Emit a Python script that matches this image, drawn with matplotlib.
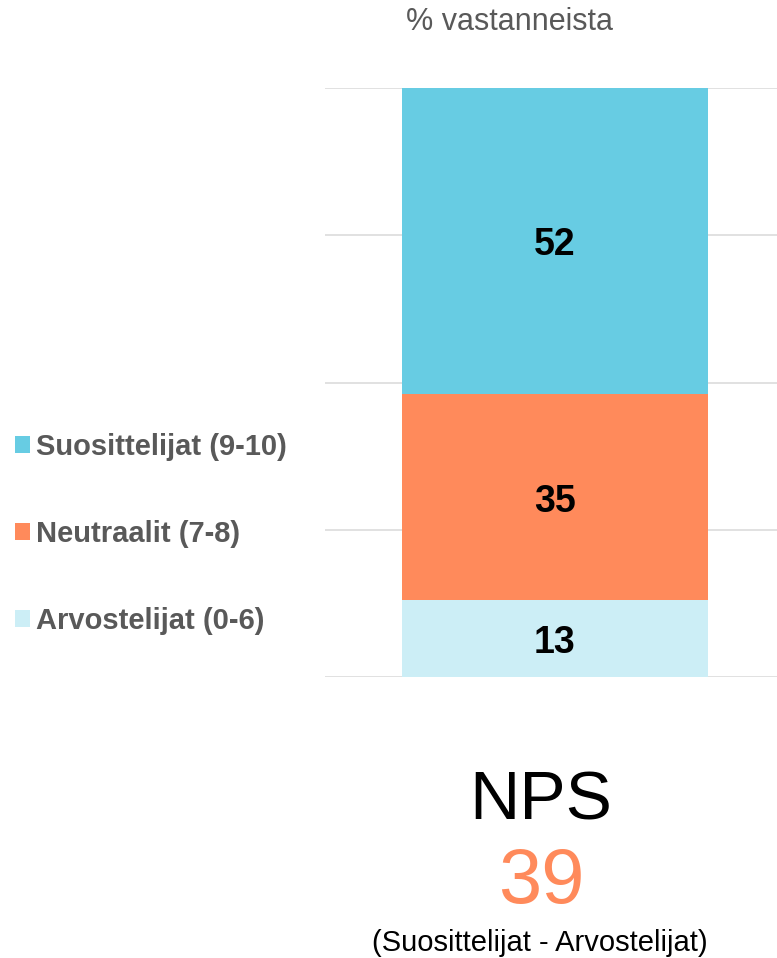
import matplotlib
matplotlib.use("Agg")
import matplotlib.pyplot as plt

# ── Data ──────────────────────────────────────────────────────────────────────
groups = ["Arvostelijat (0-6)", "Neutraalit (7-8)", "Suosittelijat (9-10)"]
shares = [13, 35, 52]
nps_value = shares[2] - shares[0]

# ── Palette ──────────────────────────────────────────────────────────────────
COLORS = ["#CCEEF6", "#FF8A5B", "#67CCE3"]
GRID = "#D9D9D9"
GREY = "#595959"

plt.rcParams["font.family"] = ["Liberation Sans", "DejaVu Sans"]

fig = plt.figure(figsize=(7.77, 9.58), dpi=100, facecolor="white")
ax = fig.add_axes([325 / 777, 1 - 677 / 958, 452 / 777, (677 - 88) / 958])

bottom = 0
bars = []
for name, val, col in zip(groups, shares, COLORS):
    b = ax.bar(0, val, width=1.0, bottom=bottom, color=col, label=name, zorder=2)
    ax.bar_label(b, labels=[f"{val}"], label_type="center", padding=-3,
                 fontsize=27, fontweight="bold", color="black")
    bars.append(b)
    bottom += val

ax.set_xlim(-230 / 306, 222 / 306)
ax.set_ylim(0, 100)
ax.set_yticks([0, 25, 50, 75, 100])
ax.set_xticks([])
ax.yaxis.grid(True, color=GRID, lw=1.1, zorder=0)
ax.tick_params(axis="y", length=0, labelleft=False)
for s in ax.spines.values():
    s.set_visible(False)

# legend, top entry = promoters
handles = [bars[2], bars[1], bars[0]]
fig.legend(handles, [groups[2], groups[1], groups[0]],
           loc="center left", bbox_to_anchor=(15 / 777, 1 - 534 / 958),
           frameon=False, labelcolor=GREY,
           prop={"weight": "bold", "size": 21},
           handlelength=0.52, handleheight=0.52, handletextpad=0.2,
           labelspacing=2.02, borderpad=0, borderaxespad=0)

fig.text(510 / 777, 1 - 22 / 958, "% vastanneista", ha="center", va="center",
         fontsize=22, color=GREY)

fig.text(541 / 777, 1 - 802 / 958, "NPS", ha="center", va="center",
         fontsize=50, color="black")
fig.text(541 / 777, 1 - 883 / 958, f"{nps_value}", ha="center", va="center",
         fontsize=56, color=COLORS[1])
fig.text(540 / 777, 1 - 943 / 958, "(Suosittelijat - Arvostelijat)",
         ha="center", va="center", fontsize=21, color="black")

fig.savefig("out.png", dpi=100, facecolor="white")
